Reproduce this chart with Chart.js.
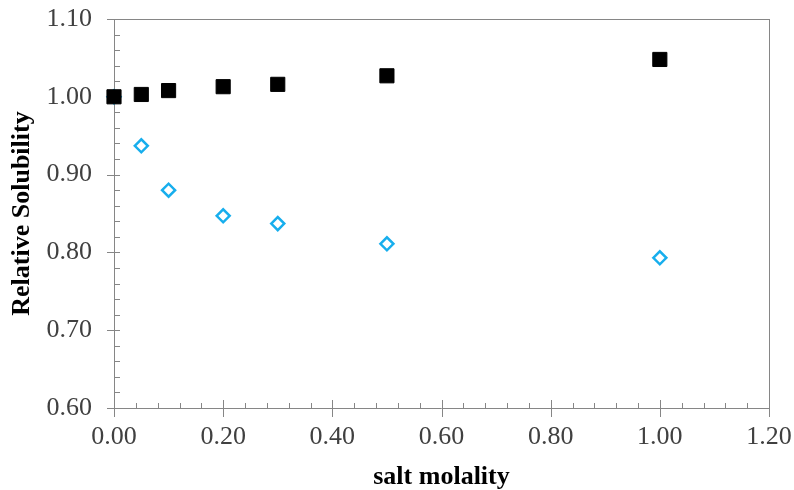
<!DOCTYPE html>
<html>
<head>
<meta charset="utf-8">
<script src="https://cdn.jsdelivr.net/npm/chart.js@4.4.1/dist/chart.umd.min.js"></script>
<style>
  html, body { margin: 0; padding: 0; background: #fff; }
  #wrap { width: 794px; height: 490px; }
</style>
</head>
<body>
<div id="wrap"><canvas id="solubility"></canvas></div>
<script>
// salt molality (mol/kg)
const molality = [0, 0.05, 0.10, 0.20, 0.30, 0.50, 1.00];
// relative solubility, two series
const upperSeries = [1.000, 1.003, 1.008, 1.013, 1.016, 1.027, 1.048];
const lowerSeries = [1.000, 0.937, 0.880, 0.847, 0.837, 0.811, 0.793];

const xMin = 0, xMax = 1.2, xStep = 0.2, xMinorStep = 0.04;
const yMin = 0.6, yMax = 1.1, yStep = 0.1, yMinorStep = 0.02;

const axisColor = '#868686';
const serif = "'Liberation Serif', 'Times New Roman', serif";

function toPoints(xs, ys) {
  return xs.map((x, i) => ({x: x, y: ys[i]}));
}

// axis lines, frame and tick marks (major ticks cross, minor ticks point inward)
const frameTicks = {
  id: 'frameTicks',
  beforeDatasetsDraw(chart) {
    const {ctx, chartArea: {top, bottom, left, right}, scales: {x, y}} = chart;
    ctx.save();
    ctx.strokeStyle = axisColor;
    ctx.lineWidth = 1;
    ctx.beginPath();
    ctx.moveTo(left + 0.5, top);
    ctx.lineTo(left + 0.5, bottom);
    ctx.moveTo(left, bottom + 0.5);
    ctx.lineTo(right, bottom + 0.5);
    ctx.moveTo(left - 7, top + 0.5);
    ctx.lineTo(right, top + 0.5);
    ctx.moveTo(right + 0.5, top);
    ctx.lineTo(right + 0.5, bottom + 9);

    const nx = Math.round((xMax - xMin) / xMinorStep);
    for (let i = 0; i <= nx; i++) {
      const px = Math.round(x.getPixelForValue(xMin + i * xMinorStep)) + 0.5;
      if (i % 5 === 0) {
        ctx.moveTo(px, bottom - 8);
        ctx.lineTo(px, bottom + 9);
      } else {
        ctx.moveTo(px, bottom - 5);
        ctx.lineTo(px, bottom);
      }
    }
    const ny = Math.round((yMax - yMin) / yMinorStep);
    for (let i = 0; i <= ny; i++) {
      const py = Math.round(y.getPixelForValue(yMin + i * yMinorStep)) + 0.5;
      if (i % 5 === 0) {
        ctx.moveTo(left - 7, py);
        ctx.lineTo(left + 6, py);
      } else {
        ctx.moveTo(left, py);
        ctx.lineTo(left + 6, py);
      }
    }
    ctx.stroke();
    ctx.restore();
  }
};

const config = {
  type: 'scatter',
  data: {
    datasets: [{
      data: toPoints(molality, upperSeries),
      pointStyle: 'rect',
      pointRadius: 10,
      backgroundColor: '#000',
      borderColor: '#000',
      borderWidth: 1,
      clip: false
    }, {
      data: toPoints(molality, lowerSeries),
      pointStyle: 'rectRot',
      pointRadius: 6.5,
      backgroundColor: '#fff',
      borderColor: '#17aeed',
      borderWidth: 2.5,
      clip: false
    }]
  },
  options: {
    responsive: true,
    maintainAspectRatio: false,
    animation: false,
    events: [],
    layout: {
      padding: {top: 19, right: 25, bottom: 0, left: 0}
    },
    plugins: {
      legend: {display: false},
      tooltip: {enabled: false}
    },
    scales: {
      x: {
        type: 'linear',
        min: xMin,
        max: xMax,
        grid: {display: false, drawTicks: false},
        border: {display: false},
        ticks: {
          stepSize: xStep,
          padding: 14,
          color: '#404040',
          font: {family: serif, size: 26},
          callback: v => v.toFixed(2)
        },
        title: {
          display: true,
          text: 'salt molality',
          color: '#000',
          font: {family: serif, size: 26, weight: 'bold', lineHeight: 1},
          padding: {top: 0, bottom: 0}
        },
        afterFit(scale) {
          scale.height = 82;
          scale.paddingLeft = 0;
          scale.paddingRight = 0;
        }
      },
      y: {
        type: 'linear',
        min: yMin,
        max: yMax,
        grid: {display: false, drawTicks: false},
        border: {display: false},
        ticks: {
          stepSize: yStep,
          padding: 22,
          color: '#404040',
          font: {family: serif, size: 26},
          callback: v => v.toFixed(2)
        },
        title: {
          display: true,
          text: 'Relative Solubility',
          color: '#000',
          font: {family: serif, size: 26, weight: 'bold', lineHeight: 1},
          padding: {top: 9, bottom: 0}
        },
        afterFit(scale) {
          scale.width = 114;
          scale.paddingTop = 0;
          scale.paddingBottom = 0;
        }
      }
    }
  },
  plugins: [frameTicks]
};

new Chart(document.getElementById('solubility'), config);
</script>
</body>
</html>
